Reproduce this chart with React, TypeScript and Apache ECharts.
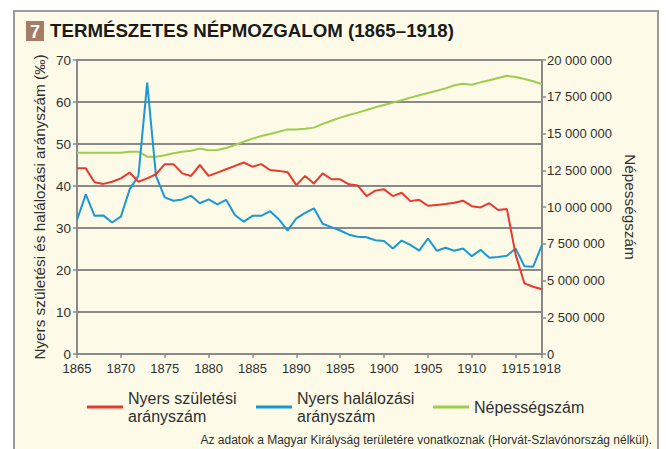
import React, { useEffect, useRef } from "react";
import * as echarts from "echarts";

const years = [
  1865, 1866, 1867, 1868, 1869, 1870, 1871, 1872, 1873, 1874,
  1875, 1876, 1877, 1878, 1879, 1880, 1881, 1882, 1883, 1884,
  1885, 1886, 1887, 1888, 1889, 1890, 1891, 1892, 1893, 1894,
  1895, 1896, 1897, 1898, 1899, 1900, 1901, 1902, 1903, 1904,
  1905, 1906, 1907, 1908, 1909, 1910, 1911, 1912, 1913, 1914,
  1915, 1916, 1917, 1918,
];

const yearLabels = [1865, 1870, 1875, 1880, 1885, 1890, 1895, 1900, 1905, 1910, 1915];
const lastYearLabel = [1918];

const birthRate = [
  44.2, 44.2, 40.9, 40.5, 41.0, 41.8, 43.2, 41.0, 41.8, 42.8,
  45.2, 45.2, 43.0, 42.4, 45.0, 42.4, 43.2, 44.0, 44.8, 45.6,
  44.6, 45.2, 43.8, 43.6, 43.3, 40.2, 42.4, 40.6, 43.0, 41.6,
  41.6, 40.4, 40.1, 37.6, 38.9, 39.2, 37.6, 38.4, 36.4, 36.7,
  35.3, 35.5, 35.7, 36.0, 36.5, 35.2, 34.9, 35.9, 34.3, 34.5,
  23.6, 16.8, 16.0, 15.4,
];

const deathRate = [
  31.9, 38.0, 32.9, 33.0, 31.3, 32.7, 39.2, 42.4, 64.6, 42.4,
  37.3, 36.5, 36.8, 37.7, 35.9, 36.8, 35.6, 36.7, 33.1, 31.5,
  32.9, 32.9, 34.0, 32.1, 29.4, 32.3, 33.6, 34.7, 31.0, 30.2,
  29.4, 28.4, 27.9, 27.8, 27.1, 26.9, 25.1, 27.0, 26.0, 24.6,
  27.5, 24.6, 25.3, 24.6, 25.1, 23.3, 24.8, 22.9, 23.1, 23.4,
  25.1, 20.9, 20.8, 26.0,
];

const population = [
  13690000, 13690000, 13690000, 13690000, 13690000, 13690000, 13760000, 13760000, 13420000, 13420000,
  13520000, 13650000, 13760000, 13830000, 13970000, 13860000, 13880000, 14010000, 14220000, 14440000,
  14650000, 14830000, 14970000, 15120000, 15280000, 15280000, 15330000, 15400000, 15650000, 15870000,
  16080000, 16260000, 16420000, 16600000, 16780000, 16940000, 17100000, 17260000, 17440000, 17600000,
  17760000, 17910000, 18070000, 18280000, 18390000, 18320000, 18480000, 18620000, 18780000, 18930000,
  18840000, 18710000, 18550000, 18350000,
];

const seriesNames = ["Nyers születési\narányszám", "Nyers halálozási\narányszám", "Népességszám"];
const titleText = "TERMÉSZETES NÉPMOZGALOM (1865–1918)";
const leftAxisName = "Nyers születési és halálozási arányszám (‰)";
const rightAxisName = "Népességszám";
const footnote = "Az adatok a Magyar Királyság területére vonatkoznak (Horvát-Szlavónország nélkül).";

const FONT = '"Liberation Sans", Arial, Helvetica, sans-serif';
const RED = "#e8392f";
const BLUE = "#1a98d5";
const GREEN = "#9ccd4b";
const GRID = "#8a8a8a";
const TXT = "#2f2f2f";

const fmtPop = (v: number) => {
  if (v === 0) return "0";
  const s = String(Math.round(v));
  return s.replace(/\B(?=(\d{3})+(?!\d))/g, " ");
};

export default function App() {
  const ref = useRef<HTMLDivElement>(null);
  useEffect(() => {
    if (!ref.current) return;
    const chart = echarts.init(ref.current, undefined, { renderer: "svg" });
    const pair = (arr: number[]) => years.map((y, i) => [y, arr[i]]);
    const legendBase = {
      orient: "horizontal",
      padding: 0,
      itemWidth: 36,
      itemHeight: 3,
      icon: "rect",
      selectedMode: false,
      textStyle: { fontFamily: FONT, fontSize: 16, lineHeight: 18, color: TXT },
    };
    const xBase = {
      type: "value",
      min: 1865,
      max: 1918,
      interval: 5,
      position: "bottom",
      splitLine: { show: false },
    };
    chart.setOption({
      animation: false,
      title: {
        text: titleText,
        left: 50,
        top: 21,
        padding: 0,
        textStyle: { fontFamily: FONT, fontSize: 18.7, fontWeight: "bold", color: "#1a1a1a" },
      },
      legend: [
        { ...legendBase, data: [seriesNames[0]], left: 87, top: 389 },
        { ...legendBase, data: [seriesNames[1]], left: 256, top: 389 },
        { ...legendBase, data: [seriesNames[2]], left: 433, top: 398 },
      ],
      grid: { left: 77, right: 124, top: 60, bottom: 95 },
      xAxis: [
        {
          ...xBase,
          axisLine: { show: true, lineStyle: { color: GRID, width: 2 } },
          axisTick: { show: true, length: 4, customValues: yearLabels, lineStyle: { color: GRID, width: 1.5 } },
          axisLabel: {
            margin: 8,
            customValues: yearLabels,
            formatter: (v: number) => String(v),
            fontFamily: FONT,
            fontSize: 13,
            color: TXT,
          },
        },
        {
          ...xBase,
          axisLine: { show: false },
          axisTick: { show: true, length: 4, customValues: lastYearLabel, lineStyle: { color: GRID, width: 1.5 } },
          axisLabel: {
            margin: 8,
            customValues: lastYearLabel,
            showMaxLabel: true,
            formatter: (v: number) => `{r|${v}}`,
            rich: {
              r: { width: 38, align: "right", fontFamily: FONT, fontSize: 13, color: TXT },
            },
            fontFamily: FONT,
            fontSize: 13,
            color: TXT,
          },
        },
      ],
      yAxis: [
        {
          type: "value",
          min: 0,
          max: 70,
          interval: 10,
          position: "left",
          name: leftAxisName,
          nameLocation: "middle",
          nameGap: 30,
          nameMoveOverlap: false,
          nameTextStyle: { fontFamily: FONT, fontSize: 15.3, color: TXT },
          axisLine: { show: true, lineStyle: { color: GRID, width: 2 } },
          axisTick: { show: true, length: 4, lineStyle: { color: GRID, width: 1.5 } },
          axisLabel: { margin: 6, fontFamily: FONT, fontSize: 13.5, color: TXT },
          splitLine: { show: true, lineStyle: { color: GRID, width: 2 } },
        },
        {
          type: "value",
          min: 0,
          max: 20000000,
          interval: 2500000,
          position: "right",
          name: rightAxisName,
          nameLocation: "middle",
          nameRotate: -90,
          nameGap: 81,
          nameMoveOverlap: false,
          nameTextStyle: { fontFamily: FONT, fontSize: 15.3, color: TXT },
          axisLine: { show: true, lineStyle: { color: GRID, width: 2 } },
          axisTick: { show: true, length: 4, lineStyle: { color: GRID, width: 1.5 } },
          axisLabel: { margin: 5, fontFamily: FONT, fontSize: 13, color: TXT, formatter: fmtPop },
          splitLine: { show: false },
        },
      ],
      graphic: [
        {
          type: "rect",
          shape: { x: 26, y: 21, width: 18, height: 20 },
          style: { fill: "#a57c66" },
        },
        {
          type: "text",
          x: 35,
          y: 31.5,
          style: {
            text: "7",
            fill: "#ffffff",
            font: `bold 18px ${FONT}`,
            textAlign: "center",
            textVerticalAlign: "middle",
          },
        },
        {
          type: "text",
          x: 652,
          y: 440,
          style: {
            text: footnote,
            fill: TXT,
            font: `12px ${FONT}`,
            textAlign: "right",
            textVerticalAlign: "middle",
          },
        },
      ],
      series: [
        {
          name: seriesNames[0],
          type: "line",
          xAxisIndex: 0,
          yAxisIndex: 0,
          data: pair(birthRate),
          showSymbol: false,
          symbol: "none",
          lineStyle: { color: RED, width: 2 },
          itemStyle: { color: RED },
          z: 4,
        },
        {
          name: seriesNames[1],
          type: "line",
          xAxisIndex: 0,
          yAxisIndex: 0,
          data: pair(deathRate),
          showSymbol: false,
          symbol: "none",
          lineStyle: { color: BLUE, width: 2 },
          itemStyle: { color: BLUE },
          z: 3,
        },
        {
          name: seriesNames[2],
          type: "line",
          xAxisIndex: 0,
          yAxisIndex: 1,
          data: pair(population),
          showSymbol: false,
          symbol: "none",
          lineStyle: { color: GREEN, width: 2 },
          itemStyle: { color: GREEN },
          z: 2,
        },
      ],
    });
    return () => chart.dispose();
  }, []);

  return (
    <div style={{ position: "absolute", left: 0, top: 0, width: 666, height: 449, background: "#ffffff", overflow: "hidden" }}>
      <div
        style={{
          position: "absolute",
          left: 13,
          top: 10,
          width: 642,
          height: 460,
          background: "#fdfbe8",
          border: "2px solid #9a9a9a",
        }}
      />
      <div ref={ref} style={{ position: "absolute", left: 0, top: 0, width: 666, height: 449 }} />
    </div>
  );
}
